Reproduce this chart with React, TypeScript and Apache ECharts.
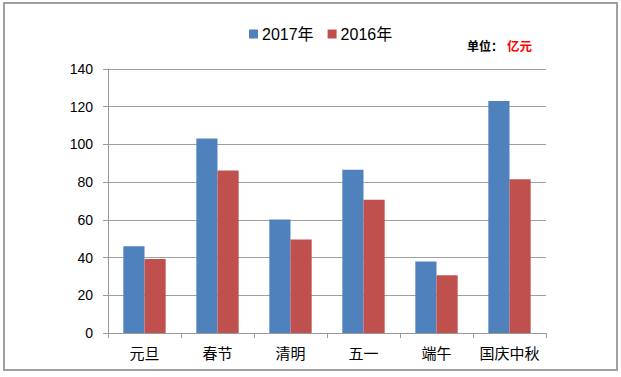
import React, { useEffect, useRef } from "react";
import * as echarts from "echarts";

const categories = ["元旦", "春节", "清明", "五一", "端午", "国庆中秋"];
const values2017 = [46, 103.2, 60.2, 86.6, 37.9, 123];
const values2016 = [39.3, 86.2, 49.6, 70.7, 30.6, 81.6];
const seriesNames = ["2017年", "2016年"];
const colors = ["#4F81BD", "#C0504D"];

const FONT = '"Liberation Sans", Arial, "Noto Sans CJK SC", sans-serif';

export default function App() {
  const ref = useRef<HTMLDivElement>(null);
  useEffect(() => {
    if (!ref.current) return;
    const chart = echarts.init(ref.current, undefined, { renderer: "svg" });
    chart.setOption({
      animation: false,
      backgroundColor: "#ffffff",
      textStyle: { fontFamily: FONT },
      graphic: [
        {
          type: "rect",
          shape: { x: 4, y: 3, width: 613, height: 367 },
          style: {
            fill: "#ffffff",
            stroke: "#a0a0a0",
            lineWidth: 2,
          },
          z: -10,
        },
        {
          type: "text",
          x: 467,
          y: 45,
          style: {
            text: "单位：",
            fill: "#000000",
            font: 'bold 12px "Noto Sans CJK SC", sans-serif',
            textVerticalAlign: "middle",
          },
        },
        {
          type: "text",
          x: 507,
          y: 45,
          style: {
            text: "亿元",
            fill: "#ff0000",
            font: 'bold 12.5px "Noto Sans CJK SC", sans-serif',
            textVerticalAlign: "middle",
          },
        },
      ],
      legend: {
        left: 244,
        top: 21,
        icon: "rect",
        itemWidth: 9,
        itemHeight: 9,
        itemGap: 14,
        data: seriesNames,
        textStyle: { fontSize: 16, color: "#000", fontFamily: FONT, padding: [0, 0, 0, -1] },
      },
      grid: { left: 108, right: 75, top: 69, bottom: 44, containLabel: false },
      xAxis: {
        type: "category",
        data: categories,
        axisLine: { show: true, lineStyle: { color: "#999999", width: 1 } },
        axisTick: { show: true, length: 5, lineStyle: { color: "#999999" } },
        axisLabel: { fontSize: 15, color: "#000", margin: 13, interval: 0, fontFamily: FONT },
        splitLine: { show: false },
      },
      yAxis: {
        type: "value",
        min: 0,
        max: 140,
        interval: 20,
        axisLine: { show: true, lineStyle: { color: "#999999", width: 1 } },
        axisTick: { show: true, length: 5, lineStyle: { color: "#999999" } },
        axisLabel: { fontSize: 14, color: "#000", margin: 15, fontFamily: FONT },
        splitLine: { show: true, lineStyle: { color: "#a0a0a0", width: 1 } },
      },
      series: [
        {
          name: seriesNames[0],
          type: "bar",
          data: values2017,
          barGap: "0%",
          barCategoryGap: "42%",
          itemStyle: { color: colors[0] },
        },
        {
          name: seriesNames[1],
          type: "bar",
          data: values2016,
          barGap: "0%",
          barCategoryGap: "42%",
          itemStyle: { color: colors[1] },
        },
      ],
    });
    return () => chart.dispose();
  }, []);
  return (
    <div
      ref={ref}
      style={{ position: "fixed", left: 0, top: 0, width: 621, height: 377 }}
    />
  );
}
